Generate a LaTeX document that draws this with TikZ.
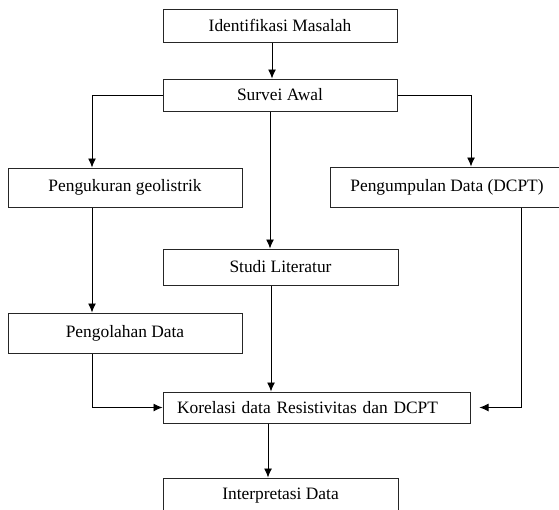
\documentclass[tikz,border=0pt]{standalone}
\usepackage{fontspec}
\setmainfont{Liberation Serif}
\usetikzlibrary{arrows.meta}
\definecolor{garis}{rgb}{0.15,0.15,0.15}

\begin{document}
\begin{tikzpicture}[x=1pt,y=-1pt,
        kotak/.style={draw=garis, line width=1pt, minimum width=234pt, inner sep=0pt, font=\fontsize{17.4}{20}\selectfont},
        panah/.style={-{Latex[length=9pt,width=8pt]}, line width=0.9pt}]
        \useasboundingbox (0,0) rectangle (559,509);
        \clip (0,0) rectangle (559,509);

        \node[kotak, minimum height=33pt] (identifikasi) at (280,25.5) {Identifikasi Masalah};
        \node[kotak, minimum height=32pt] (survei) at (280,95) {Survei Awal};
        \node[kotak, minimum height=39pt] (ukur) at (125,187.5) {Pengukuran geolistrik};
        \node[kotak, minimum height=40pt] (kumpul) at (447,187) {Pengumpulan Data (DCPT)};
        \node[kotak, minimum height=36pt, minimum width=235pt] (studi) at (280.5,267) {Studi Literatur};
        \node[kotak, minimum height=40pt] (olah) at (125,333) {Pengolahan Data};
        \node[kotak, minimum height=31pt, inner xsep=14pt, text width=279pt, align=left] (korelasi) at (316.5,407.5) {Korelasi data Resistivitas dan DCPT};
        \node[kotak, minimum height=36pt, minimum width=235pt] (interpretasi) at (280.5,496) {Interpretasi Data};

        \draw[panah] ([xshift=-8pt]identifikasi.south) -- ([xshift=-8pt]survei.north);
        \draw[panah] (survei.west) -| ([xshift=-33pt]ukur.north);
        \draw[panah] (survei.east) -| ([xshift=24pt]kumpul.north);
        \draw[panah] ([xshift=-10pt]survei.south) -- ([xshift=-10.5pt]studi.north);
        \draw[panah] ([xshift=-33pt]ukur.south) -- ([xshift=-33pt]olah.north);
        \draw[panah] ([xshift=-33pt]olah.south) |- (korelasi.west);
        \draw[panah] ([xshift=-9.5pt]studi.south) -- ([xshift=-45.5pt]korelasi.north);
        \draw[panah] ([xshift=74pt]kumpul.south) |- ([xshift=9pt]korelasi.east);
        \draw[panah] ([xshift=-48.5pt]korelasi.south) -- ([xshift=-12.5pt]interpretasi.north);
    \end{tikzpicture}
\end{document}
